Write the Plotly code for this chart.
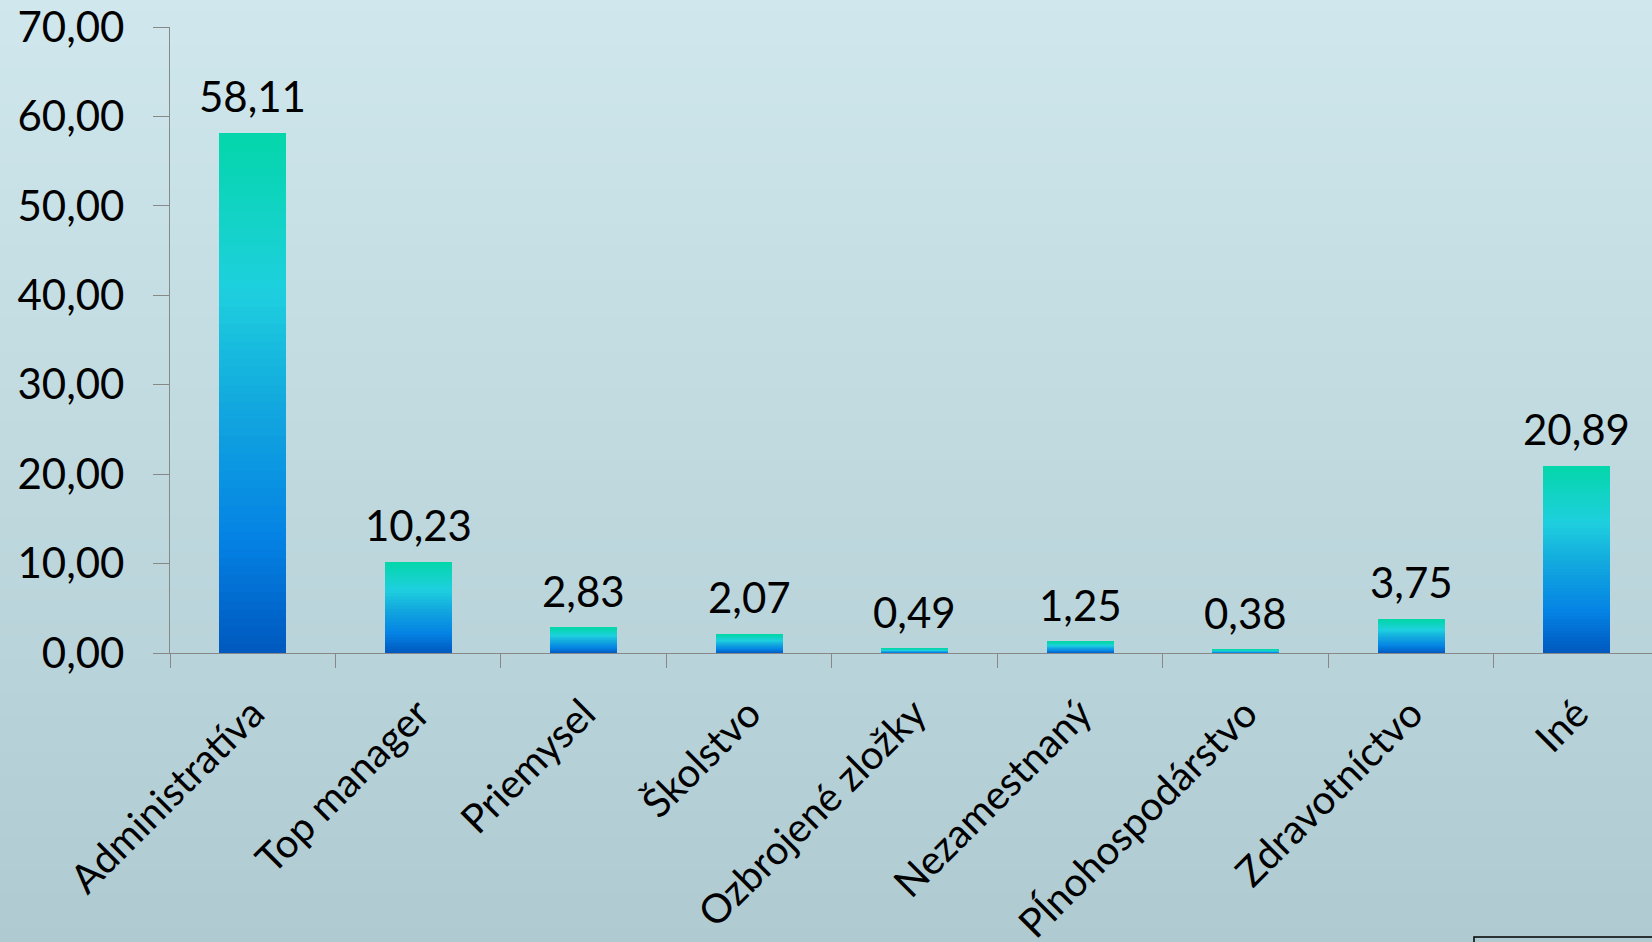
import plotly.graph_objects as go

categories = ["Administratíva", "Top manager", "Priemysel", "Školstvo", "Ozbrojené zložky",
              "Nezamestnaný", "Pĺnohospodárstvo", "Zdravotníctvo", "Iné"]
values = [58.11, 10.23, 2.83, 2.07, 0.49, 1.25, 0.38, 3.75, 20.89]
y_ticks = [0, 10, 20, 30, 40, 50, 60, 70]

W, H = 1652, 942
ML, MR, MT, MB = 170, 0, 27, 289
FONT = "Lato, 'Open Sans', sans-serif"

def lerp(c1, c2, t):
    return tuple(round(a + (b - a) * t) for a, b in zip(c1, c2))

def grad(stops, t):
    for i in range(len(stops) - 1):
        p0, c0 = stops[i]
        p1, c1 = stops[i + 1]
        if p0 <= t <= p1:
            return lerp(c0, c1, (t - p0) / (p1 - p0))
    return stops[-1][1]

bar_stops = [(0.0, (0, 88, 190)), (0.22, (4, 130, 228)), (0.5, (19, 172, 222)),
             (0.7, (30, 208, 222)), (1.0, (4, 214, 170))]
N = 60
fig = go.Figure()
for k in range(N):
    r, g, b = grad(bar_stops, (k + 0.5) / N)
    fig.add_trace(go.Bar(
        x=categories, y=[v / N for v in values],
        marker=dict(color=f"rgb({r},{g},{b})", line=dict(width=0)),
        width=0.405, showlegend=False, hoverinfo="skip"))

for c, v in zip(categories, values):
    fig.add_annotation(x=c, y=v, text=f"{v:.2f}".replace(".", ","), showarrow=False,
                       yanchor="bottom", yshift=10,
                       font=dict(family=FONT, size=42, color="black"))

# background gradient bands
plot_h = H - MT - MB
plot_w = W - ML - MR
nb = 80
top_c, bot_c = (207, 231, 237), (175, 203, 209)
y_top = 1 + MT / plot_h
y_bot = -MB / plot_h
shapes = []
for i in range(nb):
    y1 = y_top - (y_top - y_bot) * i / nb
    y0 = y_top - (y_top - y_bot) * (i + 1) / nb
    r, g, b = lerp(top_c, bot_c, (i + 0.5) / nb)
    shapes.append(dict(type="rect", xref="paper", yref="paper", x0=-ML / plot_w - 0.01, x1=1.01,
                       y0=y0 - 0.002, y1=y1 + 0.002, fillcolor=f"rgb({r},{g},{b})",
                       line=dict(width=0), layer="below"))
# partial box at bottom right
shapes.append(dict(type="rect", xref="paper", yref="paper",
                   x0=(1474 - ML) / plot_w, x1=1.05,
                   y0=-(960 - H + MB) / plot_h - 0.1, y1=-(937 - H + MB) / plot_h,
                   line=dict(color="black", width=1.5), fillcolor="rgba(0,0,0,0)", layer="above"))

fig.update_layout(
    width=W, height=H, barmode="stack", bargap=0.6,
    margin=dict(l=ML, r=MR, t=MT, b=MB, pad=0, autoexpand=False),
    paper_bgcolor="rgb(192,218,224)", plot_bgcolor="rgba(0,0,0,0)",
    separators=", ", shapes=shapes, showlegend=False,
    font=dict(family=FONT, size=41, color="black"),
)
fig.update_xaxes(
    range=[-0.5, 8.455], tickson="boundaries", ticks="outside", ticklen=14, tickwidth=1.3,
    tickcolor="#888888", showline=True, linecolor="#888888", linewidth=1.3,
    tickangle=-45, tickfont=dict(family=FONT, size=40, color="black"),
    showgrid=False, zeroline=False, ticklabelstandoff=20, automargin=False,
)
fig.update_yaxes(
    range=[0, 70], tickvals=y_ticks, tickformat=".2f", ticks="outside", ticklen=16,
    tickwidth=1.3, tickcolor="#888888", showline=True, linecolor="#888888", linewidth=1.3,
    tickfont=dict(family=FONT, size=42, color="black"), showgrid=False, zeroline=False,
    ticklabelstandoff=20, automargin=False,
)
fig.write_html("out.html", config={"displayModeBar": False},
               post_script="document.body.style.margin='0';document.body.style.overflow='hidden';")
